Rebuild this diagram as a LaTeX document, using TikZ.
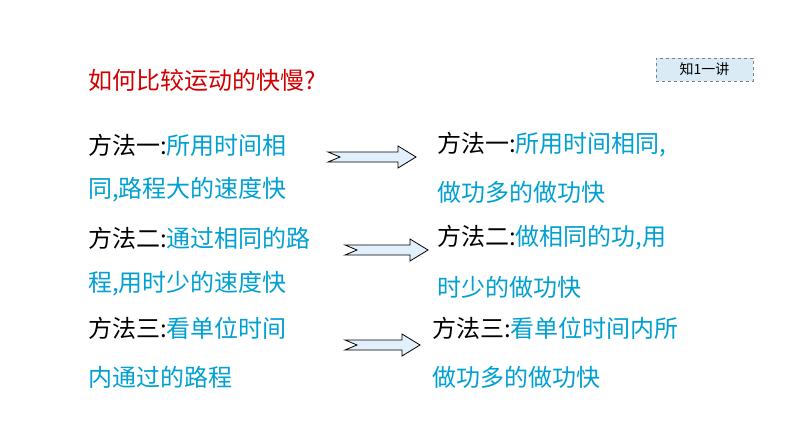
\documentclass[tikz,border=0pt]{standalone}
\usepackage{fontspec}
\newfontfamily\cjk{Noto Sans CJK SC}
\definecolor{tblue}{RGB}{0,160,210}
\definecolor{tred}{RGB}{210,0,0}
\definecolor{boxfill}{RGB}{218,235,245}
\definecolor{arrfill}{RGB}{225,240,252}
\tikzset{
 txt/.style={anchor=west,inner sep=0pt,font=\cjk\fontsize{24}{24}\selectfont},
 fatarrow/.style={draw=black,fill=arrfill,line width=0.8pt}
}
\newcommand{\farrow}[3]{% x1 x2 yc
 \draw[fatarrow] (#1,#3-5) -- (#2-18,#3-5) -- (#2-18,#3-11) -- (#2,#3) -- (#2-18,#3+11) -- (#2-18,#3+5) -- (#1,#3+5) -- (#1+12,#3) -- cycle;}
\begin{document}
\begin{tikzpicture}[x=1pt,y=-1pt]
\useasboundingbox[fill=white] (0,0) rectangle (794,447);
\node[txt,text=tred] (title) at (88,80) {如何比较运动的快慢?};
\node[draw=gray,dashed,fill=boxfill,minimum width=97pt,minimum height=23pt,font=\cjk\fontsize{14}{14}\selectfont] (tag) at (704.5,69.5) {知1一讲};
\node[txt] (l1) at (88,145) {方法一:\textcolor{tblue}{所用时间相}};
\node[txt,text=tblue] (l1b) at (88,190) {同,路程大的速度快};
\node[txt] (l2) at (88,238) {方法二:\textcolor{tblue}{通过相同的路}};
\node[txt,text=tblue] (l2b) at (88,284) {程,用时少的速度快};
\node[txt] (l3) at (88,328) {方法三:\textcolor{tblue}{看单位时间}};
\node[txt,text=tblue] (l3b) at (88,377) {内通过的路程};
\node[txt] (r1) at (437,145) {方法一:\textcolor{tblue}{所用时间相同,}};
\node[txt,text=tblue] (r1b) at (437,192) {做功多的做功快};
\node[txt] (r2) at (437,238) {方法二:\textcolor{tblue}{做相同的功,用}};
\node[txt,text=tblue] (r2b) at (437,287) {时少的做功快};
\node[txt] (r3) at (432,328) {方法三:\textcolor{tblue}{看单位时间内所}};
\node[txt,text=tblue] (r3b) at (432,377) {做功多的做功快};
\farrow{328}{416}{157}
\farrow{345}{428}{250}
\farrow{345}{420}{345}
\end{tikzpicture}
\end{document}
